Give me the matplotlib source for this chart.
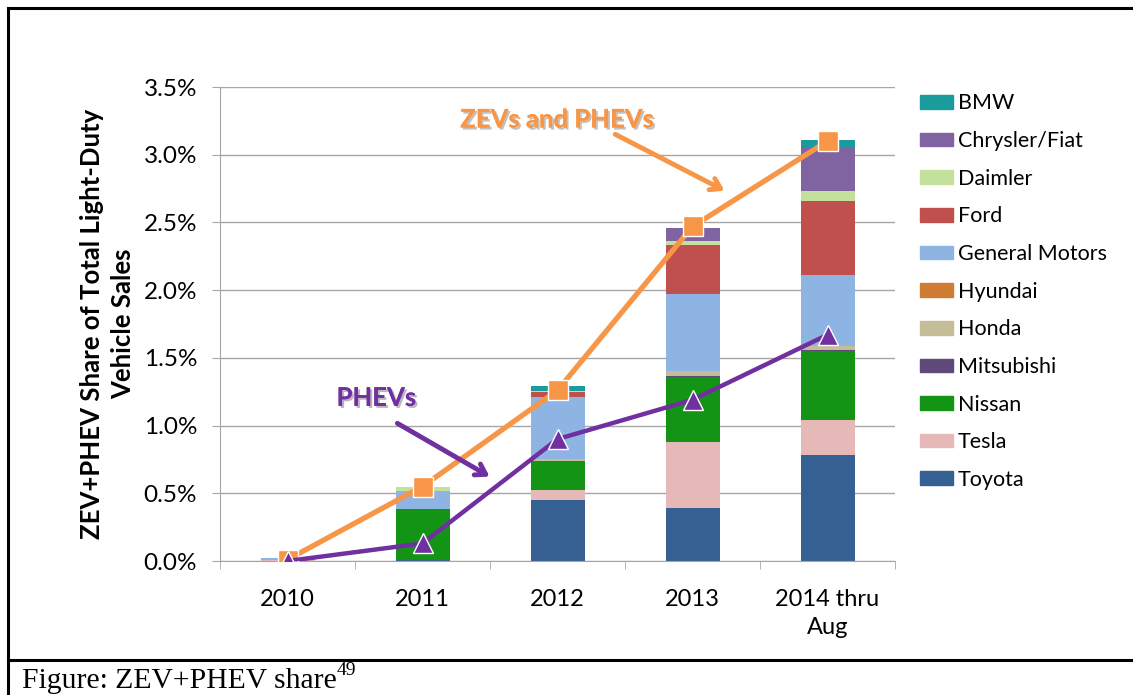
import numpy as np
import matplotlib
matplotlib.use("Agg")
import matplotlib.pyplot as plt
import matplotlib.patheffects as pe
from matplotlib.lines import Line2D
from matplotlib.patches import Patch

plt.rcParams["font.family"] = ["Lato", "DejaVu Sans"]

years = ["2010", "2011", "2012", "2013", "2014 thru\nAug"]

# share of total light-duty sales, in %
toyota = [0.0, 0.01, 0.45, 0.39, 0.78]
tesla = [0.005, 0.0, 0.075, 0.49, 0.26]
nissan = [0.005, 0.375, 0.215, 0.48, 0.51]
mitsubishi = [0.0, 0.0, 0.0, 0.005, 0.005]
honda = [0.0, 0.0, 0.01, 0.035, 0.03]
hyundai = [0.0, 0.0, 0.0, 0.0, 0.0]
gm = [0.01, 0.135, 0.46, 0.57, 0.53]
ford = [0.0, 0.0, 0.04, 0.36, 0.54]
daimler = [0.0, 0.03, 0.005, 0.03, 0.08]
chrysler = [0.0, 0.0, 0.0, 0.10, 0.32]
bmw = [0.0, 0.0, 0.04, 0.0, 0.05]

zev_phev = [0.01, 0.55, 1.26, 2.47, 3.10]
phev = [0.0, 0.13, 0.90, 1.19, 1.67]

makers = ["BMW", "Chrysler/Fiat", "Daimler", "Ford", "General Motors", "Hyundai",
          "Honda", "Mitsubishi", "Nissan", "Tesla", "Toyota"]
series = [bmw, chrysler, daimler, ford, gm, hyundai, honda, mitsubishi, nissan, tesla, toyota]
colors = ["#1a9c9c", "#8064a2", "#c3e19a", "#c0504d", "#8eb4e3", "#d07c35",
          "#c4bd97", "#604a7b", "#149414", "#e6b9b8", "#376092"]

fig = plt.figure(figsize=(11.33, 6.95), dpi=100)
ax = fig.add_axes([220 / 1133, 1 - 561 / 695, 675 / 1133, 474 / 695])

x = np.arange(len(years))
bottom = np.zeros(len(years))
# stack from Toyota (bottom) up to BMW (top)
for name, vals, c in zip(makers[::-1], series[::-1], colors[::-1]):
    ax.bar(x, vals, 0.4, bottom=bottom, color=c, zorder=2)
    bottom += np.array(vals)

ax.plot(x, zev_phev, color="#f79646", lw=3.8, marker="s", ms=14,
        mec="white", mew=1, zorder=4)
ax.plot(x, phev, color="#7030a0", lw=3.2, marker="^", ms=15,
        mec="white", mew=1, zorder=4)

shadow = [pe.withSimplePatchShadow(offset=(1.5, -1.5), alpha=0.3), pe.Normal()]
ax.text(2.0, 3.26, "ZEVs and PHEVs", color="#f79646", fontsize=18.5, fontweight="bold",
        ha="center", va="center", path_effects=shadow, zorder=5)
ax.annotate("", xy=(3.256, 2.725), xytext=(2.41, 3.16),
            arrowprops=dict(arrowstyle="->,head_length=0.7,head_width=0.45",
                            color="#f79646", lw=3.5), zorder=5)
ax.text(0.66, 1.205, "PHEVs", color="#7030a0", fontsize=18.5, fontweight="bold",
        ha="center", va="center", path_effects=shadow, zorder=5)
ax.annotate("", xy=(1.515, 0.613), xytext=(0.796, 1.027),
            arrowprops=dict(arrowstyle="->,head_length=0.7,head_width=0.45",
                            color="#7030a0", lw=3.5), zorder=5)

ax.set_xlim(-0.5, 4.5)
ax.set_ylim(0, 3.5)
ax.set_yticks(np.arange(0, 3.51, 0.5))
ax.set_yticklabels([f"{v:.1f}%" for v in np.arange(0, 3.51, 0.5)], fontsize=17.5)
ax.set_xticks(x)
ax.set_xticklabels(years, fontsize=17, linespacing=1.45)
ax.set_xticks(np.arange(-0.5, 4.6, 1), minor=True)
ax.tick_params(axis="x", which="major", length=0, pad=20)
ax.tick_params(axis="x", which="minor", length=6, color="#a6a6a6")
ax.tick_params(axis="y", length=6, color="#a6a6a6", pad=10.5)
ax.grid(axis="y", color="#a6a6a6", lw=1, zorder=0)
for s in ["top", "right"]:
    ax.spines[s].set_visible(False)
for s in ["left", "bottom"]:
    ax.spines[s].set_color("#a6a6a6")

ax.set_ylabel("ZEV+PHEV Share of Total Light-Duty\nVehicle Sales", fontsize=18.5,
              fontweight="bold", labelpad=6, linespacing=1.35)

handles = [Patch(color=c) for c in colors]
fig.legend(handles, makers, loc="upper left", bbox_to_anchor=(901 / 1133, 1 - 74 / 695),
           frameon=False, fontsize=15.5, handlelength=1.5, handleheight=0.6,
           handletextpad=0.25, labelspacing=0.82)

# page frame and caption
fig.add_artist(Line2D([8 / 1133, 1.0], [1 - 8 / 695] * 2, color="black", lw=2.2))
fig.add_artist(Line2D([8 / 1133] * 2, [0, 1 - 8 / 695], color="black", lw=2.2))
fig.add_artist(Line2D([8 / 1133, 1.0], [1 - 660 / 695] * 2, color="black", lw=2.2))
fig.text(22 / 1133, 1 - 688 / 695, "Figure: ZEV+PHEV share", fontsize=21.3,
         family="Liberation Serif", va="baseline")
fig.text(337 / 1133, 1 - 675 / 695, "49", fontsize=14, family="Liberation Serif",
         va="baseline")

fig.savefig("out.png", dpi=100)
